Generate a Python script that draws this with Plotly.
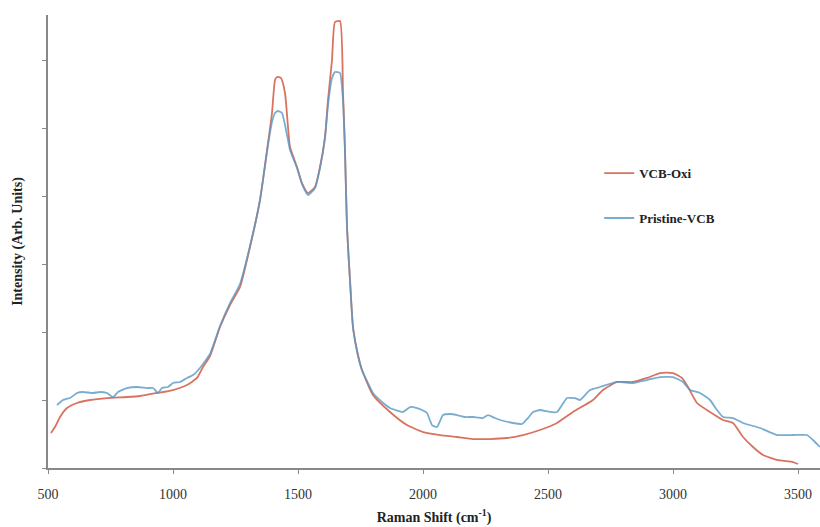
import plotly.graph_objects as go

# Raman spectra (intensity in arbitrary units)
oxi_shift = [512, 528, 548, 576, 616, 668, 736, 816, 868, 936, 1000, 1056, 1096, 1120,
             1148, 1188, 1228, 1268, 1308, 1348, 1380, 1396, 1408, 1416, 1432, 1448, 1460,
             1468, 1496, 1516, 1540, 1568, 1588, 1608, 1620, 1636, 1648, 1668, 1680, 1688,
             1696, 1708, 1720, 1740, 1756, 1800, 1868, 1936, 2000, 2068, 2136, 2200, 2268,
             2336, 2400, 2468, 2536, 2600, 2680, 2720, 2776, 2840, 2896, 2948, 3000, 3036,
             3060, 3096, 3148, 3200, 3240, 3280, 3320, 3360, 3416, 3480, 3500]
oxi_int = [515, 603, 750, 882, 956, 1000, 1029, 1044, 1059, 1103, 1147, 1221, 1324, 1485,
           1647, 2074, 2397, 2662, 3250, 3941, 4779, 5221, 5706, 5750, 5735, 5515, 5015,
           4721, 4426, 4191, 4044, 4132, 4426, 4868, 5412, 6000, 6559, 6574, 5515, 4676,
           3544, 2765, 2074, 1662, 1441, 1074, 824, 632, 529, 485, 456, 426, 426,
           441, 485, 559, 662, 824, 1000, 1147, 1265, 1265, 1324, 1397, 1397, 1324,
           1191, 956, 824, 706, 662, 456, 309, 191, 118, 88, 59]

pristine_shift = [536, 560, 588, 616, 640, 680, 708, 736, 760, 780, 816, 856, 896, 920, 940,
                  956, 980, 1000, 1028, 1056, 1080, 1108, 1148, 1188, 1228, 1268, 1308, 1348,
                  1380, 1396, 1408, 1420, 1436, 1448, 1460, 1468, 1496, 1516, 1540, 1568, 1588,
                  1608, 1620, 1636, 1648, 1668, 1680, 1688, 1696, 1708, 1720, 1740, 1756, 1800,
                  1836, 1868, 1920, 1948, 1976, 1996, 2016, 2036, 2056, 2080, 2108, 2136, 2168,
                  2200, 2240, 2260, 2288, 2308, 2360, 2396, 2420, 2440, 2468, 2508, 2536, 2556,
                  2576, 2608, 2628, 2668, 2708, 2776, 2840, 2896, 2948, 3000, 3040, 3068, 3108,
                  3148, 3176, 3200, 3240, 3280, 3348, 3416, 3480, 3536, 3560, 3588]
pristine_int = [926, 1000, 1029, 1103, 1118, 1103, 1118, 1103, 1044, 1118, 1176, 1191, 1176,
                1176, 1103, 1176, 1191, 1250, 1265, 1324, 1368, 1471, 1676, 2088, 2426, 2706,
                3265, 3941, 4750, 5088, 5221, 5250, 5221, 5044, 4824, 4676, 4412, 4176, 4015,
                4118, 4412, 4853, 5338, 5735, 5824, 5809, 5412, 4647, 3529, 2750, 2059, 1647,
                1441, 1103, 971, 882, 824, 897, 882, 853, 809, 632, 603, 779, 794, 779, 750,
                750, 735, 779, 735, 706, 662, 647, 735, 824, 853, 824, 824, 926, 1029, 1029,
                1000, 1147, 1191, 1265, 1250, 1294, 1338, 1338, 1265, 1147, 1103, 1000, 853,
                750, 735, 662, 588, 485, 485, 485, 412, 309]

x_ticks = [500, 1000, 1500, 2000, 2500, 3000, 3500]
y_ticks = [0, 1000, 2000, 3000, 4000, 5000, 6000]

serif = "Liberation Serif"

fig = go.Figure()
fig.add_trace(go.Scatter(
    x=oxi_shift, y=oxi_int, mode="lines", name="VCB-Oxi",
    line=dict(color="#D9735F", width=1.8, shape="spline", smoothing=0.5),
    legendgroup="a"))
fig.add_trace(go.Scatter(
    x=pristine_shift, y=pristine_int, mode="lines", name="Pristine-VCB",
    line=dict(color="rgba(88,152,196,0.8)", width=1.8, shape="spline", smoothing=0.4),
    legendgroup="b"))

fig.update_layout(
    width=820, height=527,
    margin=dict(l=48, r=0, t=15, b=59),
    paper_bgcolor="white", plot_bgcolor="white",
    font=dict(family=serif, size=13, color="#333"),
    legend=dict(x=0.714, y=0.684, xanchor="left", yanchor="top",
                font=dict(family=serif, size=13, color="#222", weight="bold"),
                itemwidth=30, tracegroupgap=25, bgcolor="rgba(0,0,0,0)"),
    xaxis=dict(range=[500, 3588], tickvals=x_ticks, showgrid=False, zeroline=False,
               showline=True, linecolor="#888", linewidth=1.5,
               ticks="outside", ticklen=4, tickcolor="#888", ticklabelstandoff=8,
               tickfont=dict(family=serif, size=14, color="#333"),
               title=dict(text="<b>Raman Shift (cm<sup>-1</sup>)</b>",
                          font=dict(family=serif, size=14, color="#222"), standoff=12)),
    yaxis=dict(range=[0, 6662], tickvals=y_ticks, showticklabels=False, showgrid=False,
               zeroline=False, showline=True, linecolor="#888", linewidth=1.5,
               ticks="outside", ticklen=4, tickcolor="#888",
               title=dict(text="<b>Intensity (Arb. Units)</b>",
                          font=dict(family=serif, size=14, color="#222"), standoff=16)),
)

fig.write_html("out.html")
